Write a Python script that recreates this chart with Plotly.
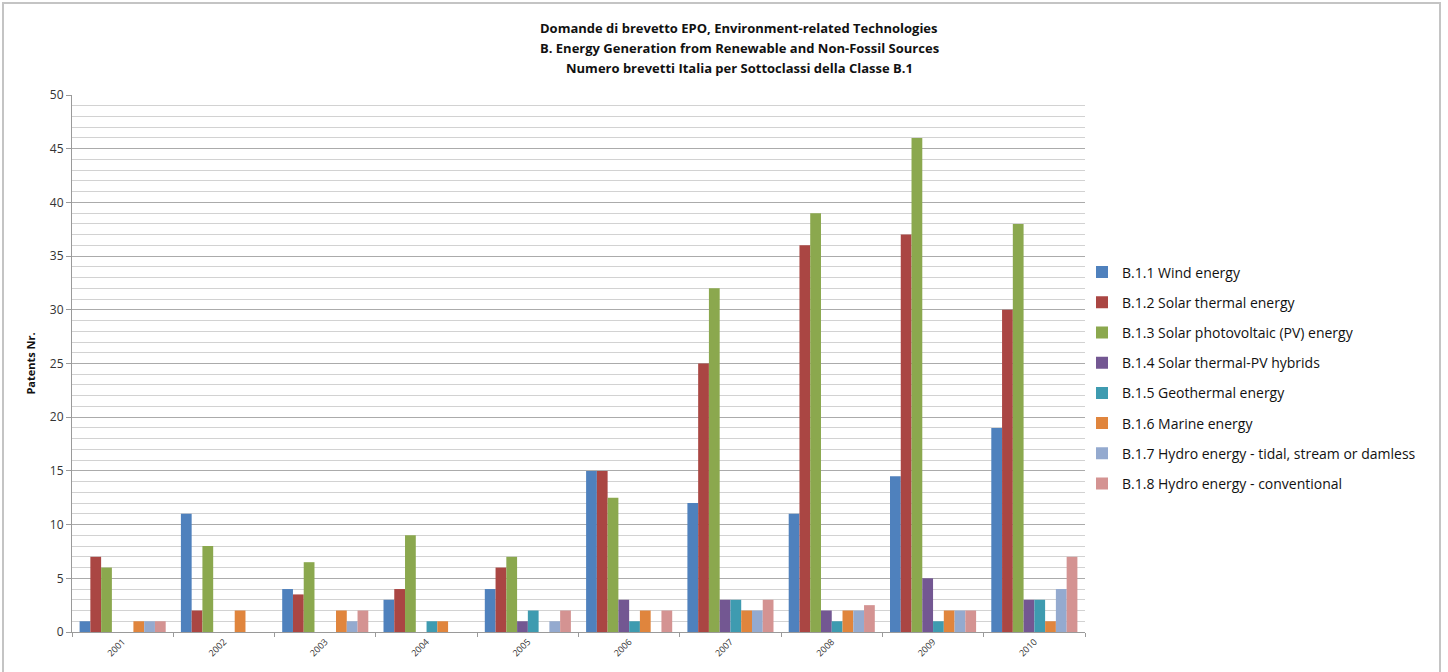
import plotly.graph_objects as go

years = ["2001", "2002", "2003", "2004", "2005", "2006", "2007", "2008", "2009", "2010"]

series_names = [
    "B.1.1 Wind energy",
    "B.1.2 Solar thermal energy",
    "B.1.3 Solar photovoltaic (PV) energy",
    "B.1.4 Solar thermal-PV hybrids",
    "B.1.5 Geothermal energy",
    "B.1.6 Marine energy",
    "B.1.7 Hydro energy - tidal, stream or damless",
    "B.1.8 Hydro energy - conventional",
]

wind = [1, 11, 4, 3, 4, 15, 12, 11, 14.5, 19]
solar_thermal = [7, 2, 3.5, 4, 6, 15, 25, 36, 37, 30]
solar_pv = [6, 8, 6.5, 9, 7, 12.5, 32, 39, 46, 38]
hybrids = [0, 0, 0, 0, 1, 3, 3, 2, 5, 3]
geothermal = [0, 0, 0, 1, 2, 1, 3, 1, 1, 3]
marine = [1, 2, 2, 1, 0, 2, 2, 2, 2, 1]
hydro_tidal = [1, 0, 1, 0, 1, 0, 2, 2, 2, 4]
hydro_conv = [1, 0, 2, 0, 2, 2, 3, 2.5, 2, 7]

series_values = [wind, solar_thermal, solar_pv, hybrids, geothermal, marine, hydro_tidal, hydro_conv]
colors = ["#4F81BD", "#AA4643", "#8BA84E", "#735792", "#3E9BB0", "#E0853D", "#94AACF", "#D49392"]

fig = go.Figure()
for i, (name, vals, col) in enumerate(zip(series_names, series_values, colors)):
    fig.add_trace(go.Bar(x=years, y=vals, name=name, marker=dict(color=col, line=dict(width=0)),
                         legendgroup=f"g{i}"))

FONT = "Open Sans"
W, H = 1448, 672
L, R, T, B = 72, 363, 95, 40
pw = W - L - R
ph = H - T - B

def px_x(p):
    return (p - L) / pw

def px_y(p):
    return (H - B - p) / ph

fig.update_layout(
    width=W, height=H,
    margin=dict(l=L, r=R, t=T, b=B),
    paper_bgcolor="white", plot_bgcolor="white",
    barmode="group", bargap=0.15, bargroupgap=0,
    font=dict(family=FONT, color="#222"),
    showlegend=True,
    legend=dict(x=px_x(1082), xanchor="left", y=px_y(378), yanchor="middle",
                font=dict(size=14, color="#111"), tracegroupgap=9,
                bgcolor="rgba(0,0,0,0)"),
    xaxis=dict(type="category", showline=True, linecolor="#9a9a9a", linewidth=1,
               ticks="outside", ticklen=4, tickcolor="#9a9a9a", tickson="boundaries",
               tickangle=-45, tickfont=dict(size=9, color="#333"), showgrid=False),
    yaxis=dict(range=[0, 50], dtick=5, showline=True, linecolor="#9a9a9a", linewidth=1,
               ticks="outside", ticklen=5, tickcolor="#9a9a9a",
               tickfont=dict(size=12, color="#333"),
               showgrid=True, gridcolor="#ababab", gridwidth=1,
               minor=dict(dtick=1, showgrid=True, gridcolor="#d2d2d2", gridwidth=1),
               zeroline=False,
               title=dict(text="<b>Patents Nr.</b>", font=dict(size=11, color="#111"), standoff=12)),
)

title_lines = [
    "Domande di brevetto EPO, Environment-related Technologies",
    "B. Energy Generation from Renewable and Non-Fossil Sources",
    "Numero brevetti Italia per Sottoclassi della Classe B.1",
]
for j, line in enumerate(title_lines):
    fig.add_annotation(text=f"<b>{line}</b>", xref="paper", yref="paper",
                       x=px_x(739), y=px_y(28 + 20 * j), xanchor="center", yanchor="middle",
                       showarrow=False, font=dict(size=13, color="#111", family=FONT))

fig.add_shape(type="rect", xref="paper", yref="paper",
              x0=px_x(3), x1=px_x(1440), y0=px_y(690), y1=px_y(3),
              line=dict(color="#c4c4c4", width=2), fillcolor="rgba(0,0,0,0)", layer="below")

fig.write_html("out.html", config={"displayModeBar": False},
               post_script="document.body.style.margin='0';document.body.style.padding='0';document.body.style.overflow='hidden';")
